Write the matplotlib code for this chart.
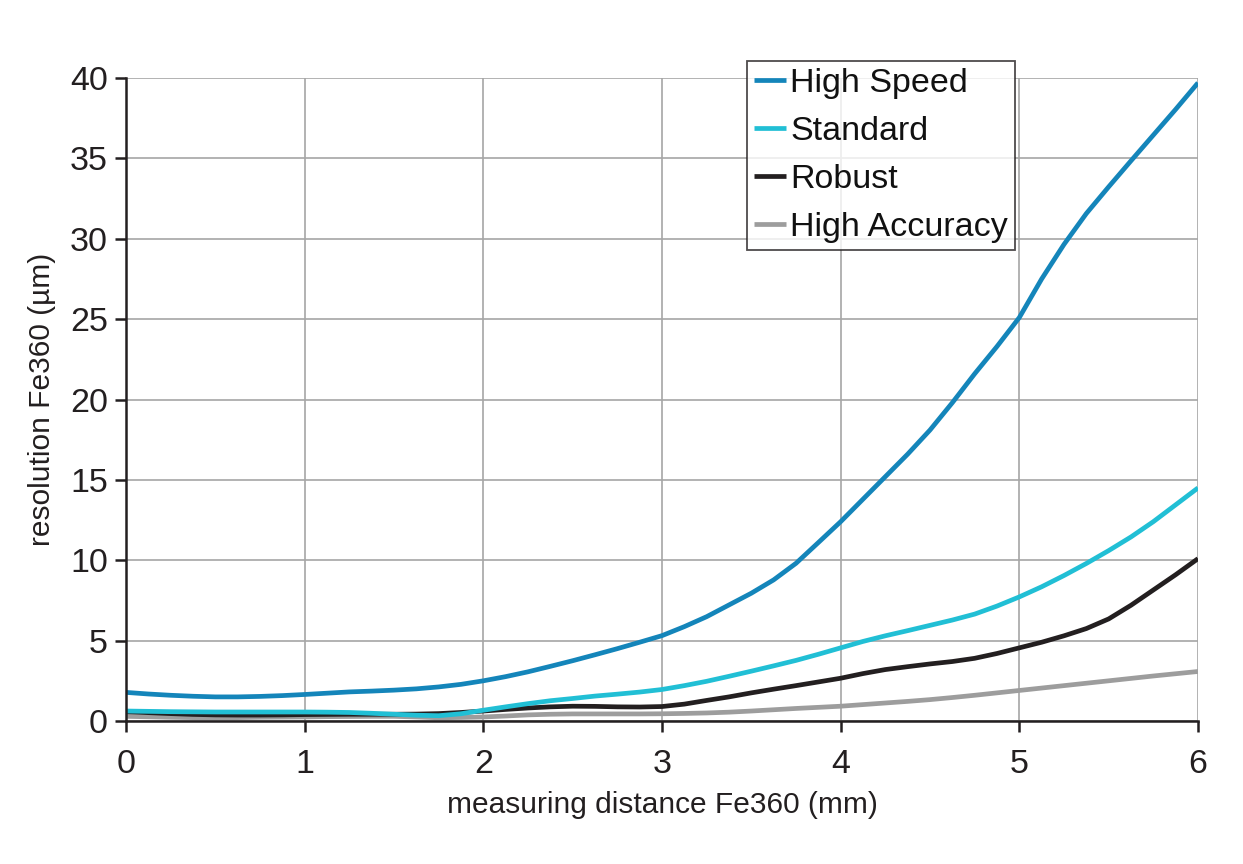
import matplotlib
matplotlib.use("Agg")
import matplotlib.pyplot as plt

plt.rcParams['font.family'] = ['Liberation Sans', 'DejaVu Sans']

distance = [0, 0.125, 0.25, 0.375, 0.5, 0.625, 0.75, 0.875,
            1, 1.125, 1.25, 1.375, 1.5, 1.625, 1.75, 1.875,
            2, 2.125, 2.25, 2.375, 2.5, 2.625, 2.75, 2.875,
            3, 3.125, 3.25, 3.375, 3.5, 3.625, 3.75, 3.875,
            4, 4.125, 4.25, 4.375, 4.5, 4.625, 4.75, 4.875,
            5, 5.125, 5.25, 5.375, 5.5, 5.625, 5.75, 5.875, 6]

high_speed = [1.78, 1.68, 1.6, 1.54, 1.5, 1.5, 1.53, 1.58,
              1.65, 1.73, 1.81, 1.86, 1.92, 2.0, 2.12, 2.28,
              2.5, 2.76, 3.06, 3.4, 3.75, 4.12, 4.5, 4.9,
              5.31, 5.87, 6.49, 7.22, 7.95, 8.78, 9.81, 11.1,
              12.4, 13.8, 15.2, 16.6, 18.1, 19.8, 21.6, 23.3,
              25.1, 27.5, 29.65, 31.57, 33.23, 34.85, 36.45, 38.05, 39.7]
standard = [0.62, 0.6, 0.58, 0.57, 0.56, 0.56, 0.56, 0.56,
            0.56, 0.55, 0.53, 0.48, 0.42, 0.36, 0.33, 0.45,
            0.67, 0.88, 1.08, 1.26, 1.4, 1.55, 1.67, 1.8,
            1.96, 2.2, 2.47, 2.78, 3.1, 3.43, 3.77, 4.15,
            4.55, 4.95, 5.3, 5.62, 5.95, 6.28, 6.65, 7.15,
            7.72, 8.35, 9.05, 9.8, 10.6, 11.45, 12.4, 13.45, 14.5]
robust = [0.58, 0.52, 0.46, 0.41, 0.38, 0.37, 0.37, 0.38,
          0.4, 0.41, 0.42, 0.42, 0.42, 0.43, 0.46, 0.53,
          0.62, 0.72, 0.81, 0.88, 0.92, 0.91, 0.88, 0.87,
          0.9, 1.05, 1.28, 1.5, 1.75, 1.98, 2.2, 2.43,
          2.66, 2.95, 3.2, 3.38, 3.55, 3.7, 3.9, 4.2,
          4.55, 4.9, 5.3, 5.75, 6.35, 7.2, 8.15, 9.1, 10.1]
high_accuracy = [0.29, 0.26, 0.23, 0.21, 0.2, 0.21, 0.23, 0.24,
                 0.25, 0.27, 0.28, 0.29, 0.29, 0.25, 0.2, 0.22,
                 0.25, 0.31, 0.38, 0.42, 0.44, 0.44, 0.44, 0.44,
                 0.45, 0.47, 0.5, 0.55, 0.62, 0.7, 0.78, 0.85,
                 0.92, 1.02, 1.12, 1.22, 1.33, 1.46, 1.6, 1.75,
                 1.9, 2.05, 2.2, 2.35, 2.5, 2.65, 2.8, 2.94, 3.08]

series_names = ["High Speed", "Standard", "Robust", "High Accuracy"]
series_values = [high_speed, standard, robust, high_accuracy]
series_colors = ["#1485BA", "#21BFD5", "#231F20", "#9D9D9D"]

xticks = [0, 1, 2, 3, 4, 5, 6]
yticks = [0, 5, 10, 15, 20, 25, 30, 35, 40]

fig = plt.figure(figsize=(12.43, 8.64), dpi=100)
ax = fig.add_axes([126/1243, 1-721/864, (1198-126)/1243, (721-78)/864])

lines = {}
for name, vals, col in reversed(list(zip(series_names, series_values, series_colors))):
    ln, = ax.plot(distance, vals, color=col, lw=3.4, label=name,
                  solid_capstyle='butt', solid_joinstyle='round')
    lines[name] = ln

ax.set_xlim(0, 6)
ax.set_ylim(0, 40)
ax.set_xticks(xticks)
ax.set_yticks(yticks)
ax.grid(True, color="#A6A6A6", lw=1.2)
ax.set_axisbelow(True)
for s in ['top', 'right']:
    ax.spines[s].set_visible(False)
for s in ['left', 'bottom']:
    ax.spines[s].set_color("#231F20")
    ax.spines[s].set_linewidth(1.8)
ax.tick_params(axis='both', direction='out', length=8, width=1.8, color="#231F20",
               labelsize=24.5, labelcolor="#231F20")
ax.tick_params(axis='x', pad=12)
ax.tick_params(axis='y', pad=5)

ax.set_xlabel("measuring distance Fe360 (mm)", fontsize=21.5, color="#231F20", labelpad=8)
ax.set_ylabel("resolution Fe360 (µm)", fontsize=21.5, color="#231F20", labelpad=10)

handles = [lines[n] for n in series_names]
leg = fig.legend(handles, series_names, loc='upper left',
                 bbox_to_anchor=(747/1243, 1-61/864), fontsize=24.5,
                 frameon=True, fancybox=False, handlelength=0.95, handletextpad=0.12,
                 borderaxespad=0, borderpad=0.2, labelspacing=0.5)
leg.get_frame().set_edgecolor("#231F20")
leg.get_frame().set_linewidth(1.3)
for t in leg.get_texts():
    t.set_color("#111111")

fig.savefig("out.png", dpi=100, facecolor="white")
